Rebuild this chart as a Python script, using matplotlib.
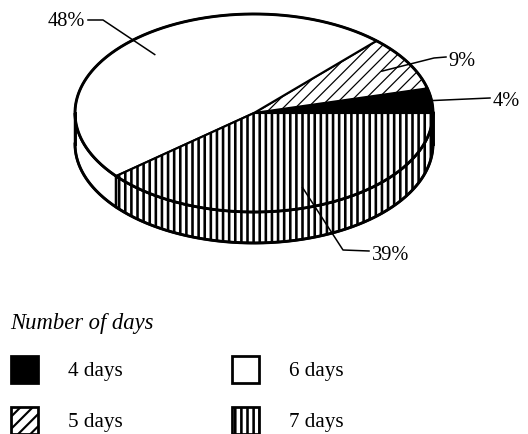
import numpy as np
import matplotlib
matplotlib.use("Agg")
import matplotlib.pyplot as plt
from matplotlib.patches import Polygon

# Share of respondents by number of days
categories = ["4 days", "5 days", "6 days", "7 days"]
shares = [4, 9, 48, 39]
pct_labels = ["4%", "9%", "48%", "39%"]
legend_title = "Number of days"

W, H, DPI = 528, 434, 110
plt.rcParams["font.family"] = ["Liberation Serif", "DejaVu Serif"]

fig = plt.figure(figsize=(W / DPI, 434.005 / DPI), dpi=DPI)
ax = fig.add_axes([0, 0, 1, 1])
ax.set_xlim(0, W)
ax.set_ylim(H, 0)
ax.axis("off")

# geometry of the tilted disc (top face ellipse + wall depth)
cx, cy, rx, ry, depth = 254, 113, 179, 99, 31

styles = {
    "4 days": dict(facecolor="black", hatch=None, hlw=None),
    "5 days": dict(facecolor="white", hatch="///", hlw=0.8),
    "6 days": dict(facecolor="white", hatch=None, hlw=None),
    "7 days": dict(facecolor="white", hatch="|||", hlw=1.7),
}


def rim(theta_deg, dz=0.0):
    t = np.radians(theta_deg)
    return cx + rx * np.cos(t), cy - ry * np.sin(t) + dz


def add_shape(xy, style, lw=1.4, z=2):
    kw = dict(closed=True, facecolor=style["facecolor"], edgecolor="black",
              linewidth=lw, zorder=z)
    if style["hatch"]:
        kw["hatch"] = style["hatch"]
    with plt.rc_context({"hatch.linewidth": style["hlw"] or 1.0}):
        p = Polygon(xy, **kw)
    if style["hlw"] and hasattr(p, "set_hatch_linewidth"):
        p.set_hatch_linewidth(style["hlw"])
    ax.add_patch(p)
    return p


fracs = np.array(shares, dtype=float) / sum(shares)
bounds = np.concatenate([[0.0], np.cumsum(fracs) * 360.0])

# front wall (only the half facing the viewer: 180..360 degrees)
for cat, a, b in zip(categories, bounds[:-1], bounds[1:]):
    lo, hi = max(a, 180.0), min(b, 360.0)
    if hi <= lo:
        continue
    th = np.linspace(lo, hi, 120)
    top = np.column_stack(rim(th))
    bot = np.column_stack(rim(th[::-1], depth))
    add_shape(np.vstack([top, bot]), styles[cat], lw=1.6, z=2)

# top face wedges
for cat, a, b in zip(categories, bounds[:-1], bounds[1:]):
    th = np.linspace(a, b, 200)
    arc = np.column_stack(rim(th))
    xy = np.vstack([[cx, cy], arc])
    add_shape(xy, styles[cat], lw=1.4, z=3)

# outer contour of the disc
th = np.linspace(0, 360, 721)
ax.plot(*rim(th), color="black", lw=1.9, zorder=4)
th = np.linspace(180, 360, 361)
ax.plot(*rim(th, depth), color="black", lw=1.9, zorder=4)
for t in (180.0, 360.0):
    x0, y0 = rim(t)
    ax.plot([x0, x0], [y0, y0 + depth], color="black", lw=1.9, zorder=4)

# percentage labels with leader lines
mids = (bounds[:-1] + bounds[1:]) / 2
leader_r = {"4 days": 1.0, "5 days": 0.83, "6 days": 0.81, "7 days": 0.80}
label_pos = {
    "4 days": dict(elbow=[(490, 98)], text=(493, 101), ha="left"),
    "5 days": dict(elbow=[(434, 58), (446, 57)], text=(448, 61), ha="left"),
    "6 days": dict(elbow=[(103, 20), (88, 20)], text=(85, 21), ha="right"),
    "7 days": dict(elbow=[(343, 250), (369, 251)], text=(372, 255), ha="left"),
}
for cat, m, lab in zip(categories, mids, pct_labels):
    r = leader_r[cat]
    t = np.radians(m)
    sx, sy = cx + r * rx * np.cos(t), cy - r * ry * np.sin(t)
    pts = [(sx, sy)] + label_pos[cat]["elbow"]
    xs, ys = zip(*pts)
    ax.plot(xs, ys, color="black", lw=1.0, zorder=5)
    tx, ty = label_pos[cat]["text"]
    ax.text(tx, ty, lab, fontsize=13.3, ha=label_pos[cat]["ha"], va="center",
            color="black", zorder=6)

# legend
ax.text(10, 323, legend_title, fontsize=14.8, style="italic", ha="left",
        va="center", color="black")
legend_slots = {
    "4 days": (11, 356),
    "6 days": (232, 356),
    "5 days": (11, 407),
    "7 days": (232, 407),
}
legend_hlw = {"5 days": 1.4, "7 days": 1.7}
for cat in categories:
    x0, y0 = legend_slots[cat]
    st = dict(styles[cat])
    if cat in legend_hlw:
        st["hlw"] = legend_hlw[cat]
    sq = [(x0, y0), (x0 + 27, y0), (x0 + 27, y0 + 27), (x0, y0 + 27)]
    add_shape(sq, st, lw=1.8, z=3)
    ax.text(x0 + 57, y0 + 15, cat, fontsize=13.8, ha="left", va="center",
            color="black")

fig.savefig("out.png", dpi=DPI, facecolor="white")
